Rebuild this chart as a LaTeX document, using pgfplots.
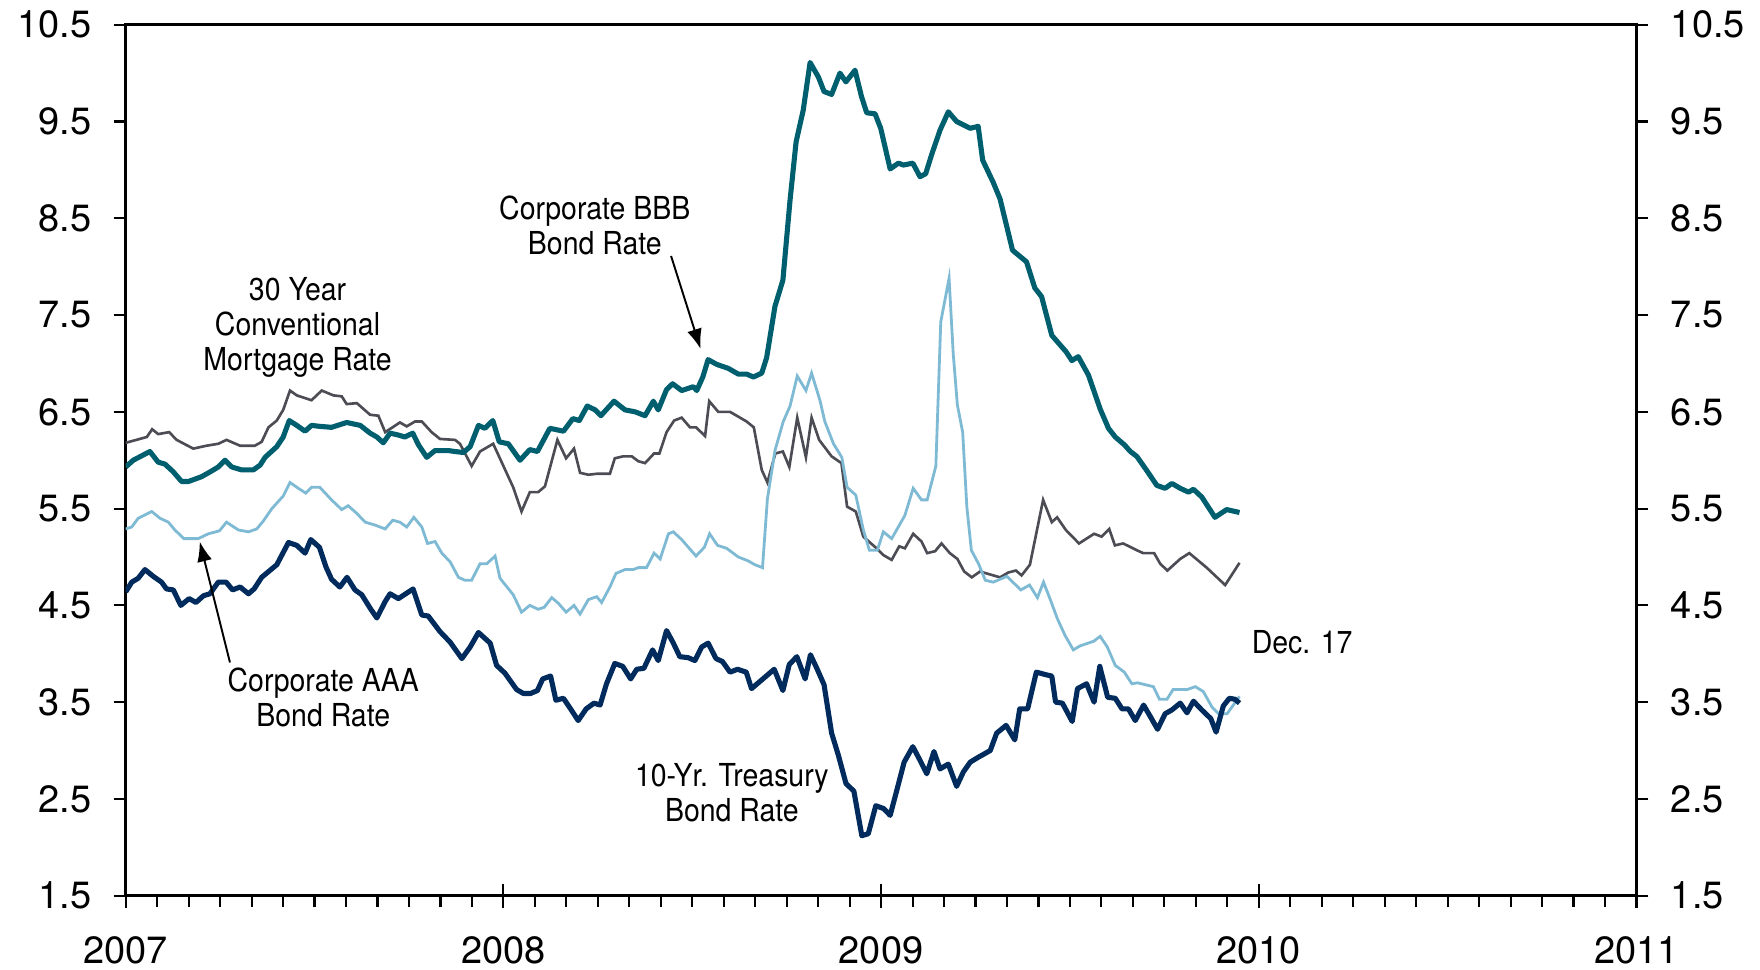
\documentclass[border=0pt]{standalone}
\usepackage{fontspec}
\setmainfont{TeX Gyre Heros}
\newfontfamily\annfont[FakeStretch=0.9]{TeX Gyre Heros}
\usepackage{pgfplots}
\pgfplotsset{compat=1.18}
\usetikzlibrary{arrows.meta}
\definecolor{bbb}{HTML}{005F6E}
\definecolor{tsy}{HTML}{002B5C}
\definecolor{aaa}{HTML}{7FBAD5}
\definecolor{mtg}{HTML}{4C4C54}

% x = years since Jan 2007
\pgfplotstableread{
x y
0.000 5.93
0.020 6.00
0.064 6.09
0.086 5.98
0.104 5.96
0.126 5.88
0.148 5.78
0.166 5.78
0.201 5.83
0.228 5.89
0.245 5.93
0.263 6.00
0.281 5.93
0.307 5.90
0.338 5.90
0.356 5.95
0.369 6.03
0.400 6.14
0.417 6.24
0.433 6.41
0.453 6.36
0.475 6.30
0.492 6.36
0.514 6.35
0.545 6.34
0.585 6.39
0.621 6.36
0.647 6.28
0.665 6.24
0.682 6.18
0.700 6.28
0.722 6.26
0.739 6.24
0.760 6.28
0.775 6.16
0.797 6.03
0.819 6.10
0.854 6.10
0.872 6.09
0.894 6.08
0.912 6.14
0.934 6.36
0.951 6.33
0.972 6.41
0.989 6.19
1.013 6.17
1.044 6.00
1.070 6.11
1.090 6.09
1.123 6.33
1.159 6.30
1.184 6.43
1.201 6.41
1.222 6.56
1.243 6.52
1.258 6.46
1.293 6.61
1.322 6.52
1.349 6.50
1.375 6.46
1.397 6.61
1.410 6.52
1.432 6.73
1.448 6.79
1.472 6.72
1.503 6.76
1.512 6.72
1.528 6.86
1.542 7.04
1.565 6.99
1.595 6.95
1.622 6.89
1.644 6.89
1.662 6.86
1.684 6.90
1.697 7.06
1.719 7.59
1.740 7.86
1.759 8.69
1.775 9.29
1.794 9.62
1.812 10.11
1.834 9.96
1.849 9.81
1.869 9.78
1.891 10.00
1.907 9.91
1.931 10.03
1.948 9.76
1.962 9.59
1.984 9.58
1.999 9.43
2.024 9.01
2.046 9.07
2.059 9.05
2.084 9.07
2.103 8.93
2.118 8.96
2.134 9.16
2.156 9.41
2.178 9.60
2.200 9.50
2.236 9.43
2.257 9.45
2.269 9.10
2.297 8.87
2.315 8.70
2.348 8.17
2.385 8.05
2.407 7.78
2.425 7.69
2.452 7.29
2.490 7.12
2.505 7.03
2.522 7.07
2.549 6.88
2.580 6.53
2.602 6.33
2.620 6.24
2.644 6.16
2.660 6.09
2.677 6.04
2.704 5.89
2.730 5.74
2.752 5.71
2.770 5.76
2.792 5.71
2.814 5.67
2.827 5.70
2.849 5.62
2.884 5.41
2.915 5.49
2.949 5.46
}\bbbdata

\pgfplotstableread{
x y
0.000 6.18
0.056 6.24
0.070 6.32
0.086 6.27
0.115 6.29
0.135 6.21
0.179 6.12
0.214 6.15
0.245 6.17
0.267 6.21
0.303 6.15
0.342 6.15
0.360 6.19
0.378 6.34
0.400 6.41
0.417 6.52
0.435 6.72
0.453 6.67
0.492 6.62
0.519 6.72
0.550 6.67
0.572 6.66
0.585 6.58
0.612 6.59
0.647 6.47
0.669 6.46
0.687 6.29
0.726 6.39
0.744 6.35
0.766 6.40
0.784 6.40
0.810 6.29
0.832 6.22
0.872 6.21
0.885 6.17
0.916 5.94
0.938 6.09
0.973 6.17
1.026 5.72
1.048 5.47
1.070 5.67
1.092 5.67
1.110 5.73
1.143 6.21
1.166 6.02
1.187 6.12
1.203 5.87
1.225 5.85
1.247 5.86
1.282 5.86
1.295 6.02
1.317 6.04
1.340 6.04
1.357 5.99
1.375 5.97
1.399 6.07
1.413 6.07
1.432 6.29
1.452 6.41
1.472 6.44
1.494 6.34
1.510 6.34
1.534 6.25
1.545 6.61
1.569 6.50
1.600 6.50
1.644 6.40
1.663 6.34
1.684 5.90
1.699 5.77
1.720 6.07
1.740 6.09
1.757 5.93
1.778 6.44
1.801 6.03
1.816 6.44
1.836 6.21
1.869 6.04
1.895 5.97
1.910 5.52
1.933 5.47
1.953 5.21
1.988 5.09
2.006 5.02
2.028 4.97
2.048 5.11
2.063 5.09
2.085 5.24
2.107 5.16
2.122 5.04
2.143 5.06
2.160 5.14
2.182 5.04
2.202 4.98
2.220 4.85
2.240 4.79
2.262 4.85
2.297 4.81
2.315 4.79
2.337 4.84
2.357 4.86
2.372 4.81
2.394 4.92
2.429 5.59
2.452 5.36
2.466 5.41
2.489 5.28
2.524 5.14
2.564 5.24
2.584 5.21
2.604 5.29
2.619 5.12
2.641 5.14
2.677 5.07
2.694 5.04
2.723 5.04
2.739 4.93
2.758 4.86
2.792 4.98
2.816 5.04
2.862 4.89
2.911 4.71
2.949 4.94
}\mtgdata

\pgfplotstableread{
x y
0.000 5.29
0.016 5.31
0.033 5.40
0.069 5.47
0.091 5.40
0.113 5.36
0.130 5.28
0.154 5.19
0.192 5.19
0.219 5.24
0.248 5.27
0.267 5.36
0.298 5.28
0.325 5.26
0.347 5.29
0.364 5.37
0.387 5.50
0.417 5.63
0.435 5.77
0.457 5.71
0.477 5.66
0.492 5.72
0.514 5.72
0.545 5.59
0.572 5.49
0.589 5.53
0.612 5.45
0.634 5.36
0.660 5.33
0.687 5.29
0.707 5.38
0.726 5.36
0.744 5.31
0.763 5.41
0.784 5.31
0.799 5.14
0.819 5.16
0.837 5.04
0.859 4.95
0.881 4.79
0.898 4.76
0.916 4.76
0.938 4.93
0.956 4.93
0.978 5.01
0.991 4.78
1.026 4.61
1.048 4.43
1.070 4.50
1.092 4.46
1.108 4.48
1.128 4.58
1.146 4.52
1.166 4.43
1.187 4.50
1.203 4.41
1.225 4.56
1.247 4.59
1.260 4.53
1.282 4.69
1.298 4.83
1.322 4.87
1.344 4.87
1.357 4.89
1.379 4.89
1.399 5.04
1.415 4.98
1.437 5.24
1.450 5.26
1.472 5.18
1.510 5.01
1.532 5.10
1.546 5.24
1.567 5.12
1.591 5.09
1.622 5.00
1.648 4.96
1.666 4.92
1.686 4.89
1.699 5.60
1.719 6.10
1.741 6.40
1.759 6.56
1.778 6.87
1.801 6.72
1.816 6.90
1.838 6.62
1.851 6.40
1.874 6.17
1.896 6.03
1.910 5.72
1.933 5.64
1.953 5.28
1.969 5.07
1.990 5.07
2.006 5.26
2.028 5.19
2.063 5.43
2.085 5.71
2.107 5.59
2.122 5.59
2.145 5.94
2.158 7.43
2.180 7.88
2.191 7.10
2.202 6.57
2.216 6.29
2.227 5.52
2.239 5.07
2.258 4.93
2.276 4.76
2.297 4.74
2.333 4.80
2.370 4.66
2.393 4.71
2.414 4.58
2.430 4.74
2.448 4.56
2.467 4.36
2.487 4.19
2.509 4.04
2.526 4.08
2.563 4.13
2.580 4.18
2.599 4.07
2.620 3.88
2.644 3.81
2.664 3.69
2.679 3.70
2.721 3.66
2.737 3.53
2.757 3.53
2.773 3.63
2.810 3.63
2.832 3.66
2.853 3.61
2.876 3.45
2.894 3.38
2.916 3.38
2.949 3.56
}\aaadata

\pgfplotstableread{
x y
0.000 4.64
0.016 4.74
0.033 4.78
0.051 4.87
0.073 4.80
0.095 4.74
0.108 4.67
0.126 4.66
0.146 4.50
0.168 4.57
0.186 4.53
0.206 4.60
0.223 4.62
0.245 4.74
0.266 4.74
0.283 4.66
0.303 4.69
0.325 4.62
0.340 4.67
0.360 4.79
0.400 4.92
0.431 5.15
0.453 5.12
0.475 5.04
0.490 5.18
0.513 5.10
0.530 4.90
0.545 4.77
0.567 4.69
0.586 4.79
0.607 4.66
0.625 4.61
0.649 4.46
0.665 4.37
0.687 4.54
0.700 4.62
0.722 4.57
0.761 4.67
0.784 4.40
0.801 4.39
0.832 4.23
0.859 4.12
0.890 3.95
0.912 4.07
0.934 4.22
0.965 4.11
0.982 3.88
1.004 3.80
1.035 3.63
1.053 3.59
1.072 3.59
1.090 3.62
1.104 3.74
1.125 3.77
1.139 3.52
1.159 3.54
1.178 3.43
1.198 3.31
1.219 3.43
1.240 3.49
1.256 3.47
1.273 3.69
1.295 3.90
1.316 3.87
1.337 3.74
1.353 3.84
1.372 3.85
1.395 4.04
1.410 3.93
1.432 4.24
1.450 4.11
1.467 3.97
1.489 3.96
1.507 3.93
1.525 4.07
1.542 4.11
1.563 3.95
1.580 3.92
1.600 3.81
1.620 3.84
1.643 3.81
1.657 3.64
1.684 3.73
1.717 3.84
1.740 3.62
1.757 3.89
1.777 3.97
1.799 3.74
1.813 3.99
1.831 3.84
1.849 3.68
1.869 3.18
1.887 2.95
1.907 2.66
1.928 2.58
1.949 2.12
1.966 2.14
1.986 2.43
2.007 2.40
2.024 2.33
2.043 2.61
2.061 2.88
2.084 3.04
2.103 2.90
2.121 2.76
2.140 2.99
2.156 2.81
2.178 2.86
2.200 2.63
2.218 2.78
2.236 2.88
2.257 2.93
2.289 3.00
2.306 3.18
2.331 3.26
2.354 3.11
2.367 3.43
2.388 3.43
2.411 3.81
2.440 3.78
2.452 3.77
2.462 3.50
2.480 3.49
2.506 3.30
2.520 3.64
2.544 3.69
2.564 3.50
2.579 3.87
2.600 3.55
2.620 3.54
2.638 3.43
2.655 3.43
2.673 3.31
2.695 3.47
2.713 3.35
2.732 3.22
2.752 3.38
2.770 3.42
2.792 3.49
2.810 3.39
2.827 3.51
2.849 3.42
2.873 3.33
2.887 3.19
2.906 3.46
2.922 3.54
2.937 3.53
2.949 3.49
}\tsydata

\begin{document}
\begin{tikzpicture}
\useasboundingbox (-12.57mm,-7.33mm) rectangle (163.43mm,89.57mm);
\pgfplotsset{
 common/.style={at={(0,0)},anchor=south west,scale only axis,width=151.08mm,height=87.1mm,
  xmin=0,xmax=4,ymin=1.5,ymax=10.5,
  ytick={1.5,2.5,...,10.5},
  y tick label style={/pgf/number format/fixed,/pgf/number format/fixed zerofill,/pgf/number format/precision=1},
  /pgf/number format/assume math mode=true,
  tick label style={font=\fontsize{10.8}{13}\selectfont},
  tick align=outside,major tick length=1.2mm,minor tick length=1.15mm,
  every tick/.style={black,line width=0.6pt},
  axis line style={line width=0.8pt}},
}
\begin{axis}[common,
 xtick={0,1,2,3,4},xticklabels={2007,2008,2009,2010,2011},
 minor x tick num=11,xtick pos=bottom,ytick pos=left,
 extra x ticks={0,1,2,3,4},extra x tick labels={},
 extra x tick style={tick align=center,major tick length=2.4mm},
 x tick label style={yshift=-1.6mm},
 y tick label style={xshift=-1mm}]
\addplot[mtg,line width=0.75pt] table {\mtgdata};
\addplot[aaa,line width=0.8pt] table {\aaadata};
\addplot[bbb,line width=1.45pt,line join=round] table {\bbbdata};
\addplot[tsy,line width=1.45pt,line join=round] table {\tsydata};

\begin{scope}[font=\annfont\fontsize{9}{10}\selectfont,align=center]
\node at (axis cs:0.455,7.37) {30 Year\\Conventional\\Mortgage Rate};
\node at (axis cs:1.242,8.43) {Corporate BBB\\Bond Rate};
\node at (axis cs:0.523,3.55) {Corporate AAA\\Bond Rate};
\node at (axis cs:1.605,2.56) {10-Yr. Treasury\\Bond Rate};
\node at (axis cs:3.115,4.12) {Dec. 17};
\end{scope}
\draw[-{Latex[length=2mm,width=1.5mm]},line width=0.55pt] (axis cs:1.444,8.11) -- (axis cs:1.522,7.15);
\draw[-{Latex[length=2mm,width=1.5mm]},line width=0.55pt] (axis cs:0.276,3.91) -- (axis cs:0.196,5.16);
\end{axis}
\begin{axis}[common,axis x line=none,axis y line*=right,
 y tick label style={xshift=1mm}]
\addplot[draw=none] coordinates {(0,1.5)};
\end{axis}
\end{tikzpicture}
\end{document}
